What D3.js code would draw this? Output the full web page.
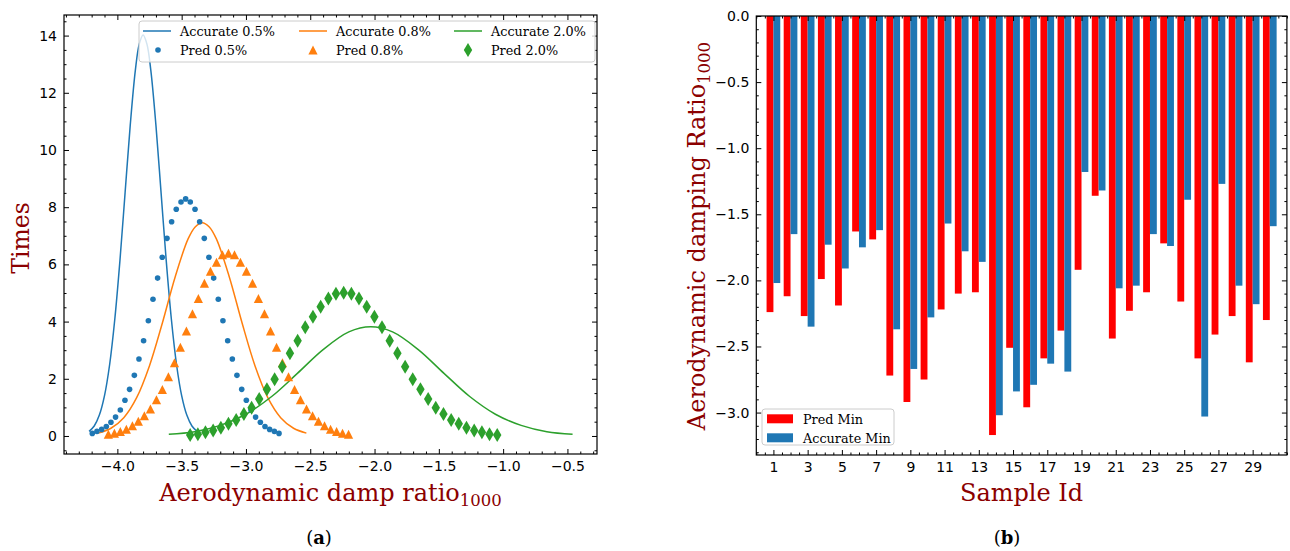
<!DOCTYPE html>
<html>
<head>
<meta charset="utf-8">
<script src="https://cdn.jsdelivr.net/npm/d3@7"></script>
<style>
  body { margin: 0; background: #fff; }
  .tick text { font-family: 'DejaVu Sans', sans-serif; font-size: 14px; fill: #000; }
  .tick line { stroke: #000; stroke-width: 1; }
</style>
</head>
<body>
<script>
// ---- left panel: accurate curves ----
const acc05X = [-4.22, -4.18, -4.14, -4.10, -4.06, -4.02, -3.98, -3.94, -3.90, -3.86, -3.83, -3.80, -3.77, -3.74, -3.70, -3.66, -3.62, -3.58, -3.54, -3.50, -3.46, -3.42, -3.38]
const acc05Y = [0.16, 0.35, 0.73, 1.41, 2.50, 4.08, 6.13, 8.50, 10.86, 12.79, 13.70, 14.02, 13.70, 12.79, 10.86, 8.50, 6.13, 4.08, 2.50, 1.41, 0.73, 0.35, 0.16]

const acc08X = [-4.15, -4.05, -3.95, -3.85, -3.75, -3.65, -3.55, -3.45, -3.395, -3.34, -3.285, -3.23, -3.13, -3.03, -2.93, -2.83, -2.73, -2.63, -2.53]
const acc08Y = [0.10, 0.27, 0.64, 1.34, 2.46, 3.95, 5.57, 6.89, 7.31, 7.46, 7.31, 6.89, 5.57, 3.95, 2.46, 1.34, 0.64, 0.27, 0.10]

const acc20X = [-3.60, -3.40, -3.20, -3.00, -2.80, -2.60, -2.40, -2.20, -2.03, -1.86, -1.66, -1.46, -1.26, -1.06, -0.86, -0.66, -0.46]
const acc20Y = [0.06, 0.15, 0.37, 0.76, 1.38, 2.19, 3.02, 3.64, 3.82, 3.64, 3.02, 2.19, 1.38, 0.76, 0.37, 0.15, 0.06]

// ---- left panel: predicted points ----
const pred05X = [-4.195, -4.159, -4.122, -4.086, -4.050, -4.014, -3.977, -3.941, -3.905, -3.868, -3.832, -3.796, -3.759, -3.723, -3.687, -3.651, -3.614, -3.578, -3.542, -3.505, -3.469, -3.433, -3.396, -3.360, -3.324, -3.288, -3.251, -3.215, -3.179, -3.142, -3.106, -3.070, -3.033, -2.997, -2.961, -2.925, -2.888, -2.852, -2.816, -2.779, -2.743]
const pred05Y = [0.09, 0.16, 0.23, 0.33, 0.48, 0.66, 0.91, 1.25, 1.63, 2.12, 2.69, 3.33, 4.03, 4.78, 5.52, 6.25, 6.91, 7.49, 7.93, 8.18, 8.29, 8.18, 7.93, 7.49, 6.91, 6.25, 5.52, 4.78, 4.03, 3.33, 2.69, 2.12, 1.63, 1.25, 0.91, 0.66, 0.48, 0.33, 0.23, 0.16, 0.09]

const pred08X = [-4.070, -4.023, -3.977, -3.930, -3.883, -3.837, -3.790, -3.743, -3.696, -3.650, -3.603, -3.556, -3.510, -3.463, -3.416, -3.370, -3.323, -3.276, -3.229, -3.183, -3.136, -3.089, -3.043, -2.996, -2.949, -2.903, -2.856, -2.809, -2.762, -2.716, -2.669, -2.622, -2.576, -2.529, -2.482, -2.436, -2.389, -2.342, -2.295, -2.249, -2.202]
const pred08Y = [0.06, 0.09, 0.15, 0.23, 0.35, 0.51, 0.70, 0.94, 1.26, 1.62, 2.07, 2.56, 3.10, 3.67, 4.27, 4.80, 5.34, 5.76, 6.07, 6.33, 6.39, 6.33, 6.07, 5.76, 5.34, 4.80, 4.27, 3.67, 3.10, 2.56, 2.07, 1.62, 1.26, 0.94, 0.70, 0.51, 0.35, 0.23, 0.15, 0.09, 0.06]

const pred20X = [-3.434, -3.374, -3.315, -3.255, -3.195, -3.136, -3.076, -3.016, -2.956, -2.897, -2.837, -2.777, -2.718, -2.658, -2.598, -2.539, -2.479, -2.419, -2.359, -2.300, -2.240, -2.180, -2.121, -2.061, -2.001, -1.942, -1.882, -1.822, -1.762, -1.703, -1.643, -1.583, -1.524, -1.464, -1.404, -1.345, -1.285, -1.225, -1.165, -1.106, -1.046]
const pred20Y = [0.03, 0.06, 0.13, 0.19, 0.29, 0.43, 0.56, 0.77, 0.99, 1.29, 1.63, 1.98, 2.42, 2.89, 3.33, 3.80, 4.17, 4.52, 4.81, 4.97, 5.01, 4.97, 4.81, 4.52, 4.17, 3.80, 3.33, 2.89, 2.42, 1.98, 1.63, 1.29, 0.99, 0.77, 0.56, 0.43, 0.29, 0.19, 0.13, 0.06, 0.03]

const leftXTicks = [-4.0, -3.5, -3.0, -2.5, -2.0, -1.5, -1.0, -0.5]
const leftYTicks = [0, 2, 4, 6, 8, 10, 12, 14]

// ---- right panel: bars ----
const sampleIds = [1, 2, 3, 4, 5, 6, 7, 8, 9, 10, 11, 12, 13, 14, 15, 16, 17, 18, 19, 20, 21, 22, 23, 24, 25, 26, 27, 28, 29, 30]
const predMin = [-2.24, -2.12, -2.27, -1.99, -2.19, -1.63, -1.69, -2.72, -2.92, -2.75, -2.22, -2.10, -2.09, -3.17, -2.51, -2.96, -2.59, -2.38, -1.92, -1.36, -2.44, -2.23, -2.09, -1.72, -2.16, -2.59, -2.41, -2.27, -2.62, -2.30]
const accMin = [-2.02, -1.65, -2.35, -1.73, -1.91, -1.75, -1.62, -2.37, -2.67, -2.28, -1.57, -1.78, -1.86, -3.02, -2.84, -2.79, -2.63, -2.69, -1.18, -1.32, -2.06, -2.04, -1.65, -1.74, -1.39, -3.03, -1.27, -2.04, -2.18, -1.59]

const rightXTicks = [1, 3, 5, 7, 9, 11, 13, 15, 17, 19, 21, 23, 25, 27, 29]
const rightYTicks = [0.0, -0.5, -1.0, -1.5, -2.0, -2.5, -3.0]

const blue = '#1f77b4', orange = '#ff7f0e', green = '#2ca02c', labelRed = '#8b0000'

const svg = d3.select('body').append('svg')
  .attr('width', 1290).attr('height', 551)
  .style('font-family', "'DejaVu Serif', serif")

svg.append('rect').attr('width', 1290).attr('height', 551).attr('fill', '#fff')

function frameAxes (g, x, y, xMajor, xMinor, yMajor, yMinor, xFmt, yFmt) {
  const [x0, x1] = x.range()
  const [y0, y1] = y.range()
  const add = (axis, tx, ty) => g.append('g')
    .attr('transform', `translate(${tx},${ty})`)
    .call(axis)
    .call(s => s.select('.domain').remove())
  add(d3.axisBottom(x).tickValues(xMajor).tickSize(-5).tickPadding(7).tickFormat(xFmt), 0, y0)
  add(d3.axisBottom(x).tickValues(xMinor).tickSize(-2.5).tickFormat(''), 0, y0)
  add(d3.axisTop(x).tickValues(xMajor).tickSize(-5).tickFormat(''), 0, y1)
  add(d3.axisTop(x).tickValues(xMinor).tickSize(-2.5).tickFormat(''), 0, y1)
  add(d3.axisLeft(y).tickValues(yMajor).tickSize(-5).tickPadding(7).tickFormat(yFmt), x0, 0)
  add(d3.axisLeft(y).tickValues(yMinor).tickSize(-2.5).tickFormat(''), x0, 0)
  add(d3.axisRight(y).tickValues(yMajor).tickSize(-5).tickFormat(''), x1, 0)
  add(d3.axisRight(y).tickValues(yMinor).tickSize(-2.5).tickFormat(''), x1, 0)
  g.append('rect')
    .attr('x', x0).attr('y', y1)
    .attr('width', x1 - x0).attr('height', y0 - y1)
    .attr('fill', 'none').attr('stroke', '#000').attr('stroke-width', 1.2)
}

// ================= left panel =================
const xL = d3.scaleLinear().domain([-4.415, -0.27]).range([64, 597])
const yL = d3.scaleLinear().domain([-0.63, 14.72]).range([454, 15])
const gL = svg.append('g')

const line = d3.line().x(d => xL(d[0])).y(d => yL(d[1])).curve(d3.curveCatmullRom)
const curves = [
  { xs: acc05X, ys: acc05Y, color: blue },
  { xs: acc08X, ys: acc08Y, color: orange },
  { xs: acc20X, ys: acc20Y, color: green }
]
curves.forEach(c => {
  gL.append('path')
    .datum(c.xs.map((v, i) => [v, c.ys[i]]))
    .attr('d', line)
    .attr('fill', 'none').attr('stroke', c.color).attr('stroke-width', 1.5)
})

const triangle = 'M0,-4.6L4.6,4.4L-4.6,4.4Z'
const diamond = 'M0,-7L4.2,0L0,7L-4.2,0Z'

gL.append('g').selectAll('circle')
  .data(pred05X.map((v, i) => [v, pred05Y[i]]))
  .join('circle')
  .attr('cx', d => xL(d[0])).attr('cy', d => yL(d[1]))
  .attr('r', 2.8).attr('fill', blue)

gL.append('g').selectAll('path')
  .data(pred08X.map((v, i) => [v, pred08Y[i]]))
  .join('path')
  .attr('transform', d => `translate(${xL(d[0])},${yL(d[1])})`)
  .attr('d', triangle).attr('fill', orange)

gL.append('g').selectAll('path')
  .data(pred20X.map((v, i) => [v, pred20Y[i]]))
  .join('path')
  .attr('transform', d => `translate(${xL(d[0])},${yL(d[1])})`)
  .attr('d', diamond).attr('fill', green)

frameAxes(gL, xL, yL,
  leftXTicks, d3.range(-44, -2).map(i => i / 10).filter(v => Math.abs(v * 2 - Math.round(v * 2)) > 1e-6),
  leftYTicks, d3.range(-1, 30).map(i => i / 2).filter(v => v % 2 !== 0),
  d3.format('.1f'), d3.format('d'))

// legend (left)
const legL = gL.append('g')
legL.append('rect')
  .attr('x', 139).attr('y', 21).attr('width', 456).attr('height', 41).attr('rx', 3)
  .attr('fill', '#fff').attr('fill-opacity', 0.8).attr('stroke', '#ccc')
const legCols = [
  { x: 143, color: blue, acc: 'Accurate 0.5%', pred: 'Pred 0.5%', shape: 'circle' },
  { x: 299, color: orange, acc: 'Accurate 0.8%', pred: 'Pred 0.8%', shape: triangle },
  { x: 454, color: green, acc: 'Accurate 2.0%', pred: 'Pred 2.0%', shape: diamond }
]
legCols.forEach(c => {
  legL.append('line').attr('x1', c.x).attr('x2', c.x + 28).attr('y1', 31).attr('y2', 31)
    .attr('stroke', c.color).attr('stroke-width', 1.5)
  legL.append('text').attr('x', c.x + 37).attr('y', 35.5).text(c.acc)
    .attr('font-size', 12.8).attr('fill', '#000')
  if (c.shape === 'circle') {
    legL.append('circle').attr('cx', c.x + 15).attr('cy', 50).attr('r', 2.8).attr('fill', c.color)
  } else {
    legL.append('path').attr('transform', `translate(${c.x + 14},50)`).attr('d', c.shape).attr('fill', c.color)
  }
  legL.append('text').attr('x', c.x + 37).attr('y', 54.5).text(c.pred)
    .attr('font-size', 12.8).attr('fill', '#000')
})

// axis labels (left)
const xLab = gL.append('text').attr('x', 330.5).attr('y', 501)
  .attr('text-anchor', 'middle').attr('fill', labelRed).attr('font-size', 24)
xLab.append('tspan').text('Aerodynamic damp ratio')
xLab.append('tspan').text('1000').attr('font-size', 16.5).attr('dy', 5)

gL.append('text').attr('transform', 'translate(29,238) rotate(-90)')
  .attr('text-anchor', 'middle').attr('fill', labelRed).attr('font-size', 23.5)
  .text('Times')

// ================= right panel =================
const xR = d3.scaleLinear().domain([0, 31]).range([756.3, 1286.9])
const yR = d3.scaleLinear().domain([-3.321, 0]).range([455, 16])
const gR = svg.append('g')

gR.append('g').selectAll('rect')
  .data(sampleIds.map((id, i) => [id, predMin[i]]))
  .join('rect')
  .attr('x', d => xR(d[0] - 0.4)).attr('width', d => xR(0.4) - xR(0))
  .attr('y', yR(0)).attr('height', d => yR(d[1]) - yR(0))
  .attr('fill', '#ff0000')

gR.append('g').selectAll('rect')
  .data(sampleIds.map((id, i) => [id, accMin[i]]))
  .join('rect')
  .attr('x', d => xR(d[0])).attr('width', d => xR(0.4) - xR(0))
  .attr('y', yR(0)).attr('height', d => yR(d[1]) - yR(0))
  .attr('fill', blue)

frameAxes(gR, xR, yR,
  rightXTicks, d3.range(0, 63).map(i => i / 2).filter(v => !rightXTicks.includes(v)),
  rightYTicks, d3.range(-33, 1).map(i => i / 10).filter(v => Math.abs(v * 2 - Math.round(v * 2)) > 1e-6),
  d3.format('d'), d3.format('.1f'))

// legend (right)
const legR = gR.append('g')
legR.append('rect')
  .attr('x', 762).attr('y', 409).attr('width', 132).attr('height', 36).attr('rx', 3)
  .attr('fill', '#fff').attr('fill-opacity', 0.8).attr('stroke', '#ccc')
const legBars = [
  { y: 414.3, color: '#ff0000', name: 'Pred Min' },
  { y: 433.3, color: blue, name: 'Accurate Min' }
]
legBars.forEach(b => {
  legR.append('rect').attr('x', 767).attr('y', b.y).attr('width', 26).attr('height', 9).attr('fill', b.color)
  legR.append('text').attr('x', 803).attr('y', b.y + 9.5).text(b.name)
    .attr('font-size', 12.8).attr('fill', '#000')
})

gR.append('text').attr('x', 1021.6).attr('y', 501)
  .attr('text-anchor', 'middle').attr('fill', labelRed).attr('font-size', 24)
  .text('Sample Id')

const yLabR = gR.append('text').attr('transform', 'translate(705,236) rotate(-90)')
  .attr('text-anchor', 'middle').attr('fill', labelRed).attr('font-size', 24)
yLabR.append('tspan').text('Aerodynamic damping Ratio')
yLabR.append('tspan').text('1000').attr('font-size', 16.5).attr('dy', 5)

// captions
const caps = [{ x: 319, l: 'a' }, { x: 1007, l: 'b' }]
caps.forEach(c => {
  const t = svg.append('text').attr('x', c.x).attr('y', 544)
    .attr('text-anchor', 'middle').attr('font-size', 18).attr('fill', '#000')
  t.append('tspan').text('(')
  t.append('tspan').text(c.l).attr('font-weight', 'bold')
  t.append('tspan').text(')')
})
</script>
</body>
</html>
